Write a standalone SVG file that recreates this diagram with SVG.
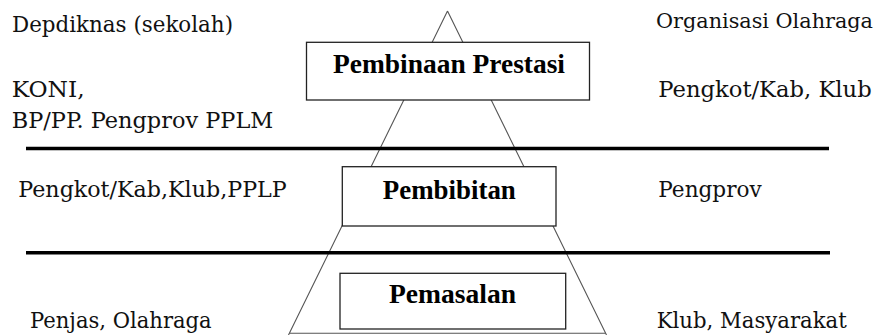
<svg xmlns="http://www.w3.org/2000/svg" width="880" height="335" viewBox="0 0 880 335">
<style>
text.lbl{font-family:'DejaVu Serif',serif;font-size:22px;fill:#111}
.box{fill:#fff;stroke:#222;stroke-width:1.3}
text.btxt{font-family:'Liberation Serif',serif;font-size:27px;font-weight:bold;fill:#000;text-anchor:middle}
.sep{stroke:#000;stroke-width:3.5}
.tri{fill:none;stroke:#555;stroke-width:1.1}
</style>
<rect width="880" height="335" fill="#fff"/>
<g id="connectors">
<path class="tri" d="M447.5,11 L288.5,335 M447.5,11 L606.5,335 M289.5,333.2 L605.5,333.2"/>
<line class="sep" x1="26" y1="148.5" x2="829" y2="148.5"/>
<line class="sep" x1="26" y1="252.7" x2="830" y2="252.7"/>
</g>
<g id="node-pembinaan">
<rect class="box" x="306.5" y="42.3" width="283" height="57.7"/>
<text class="btxt" x="449" y="72.7" textLength="232" lengthAdjust="spacingAndGlyphs">Pembinaan Prestasi</text>
</g>
<g id="node-pembibitan">
<rect class="box" x="342.3" y="166.7" width="213.7" height="59.3"/>
<text class="btxt" x="449.3" y="199.3" textLength="133" lengthAdjust="spacingAndGlyphs">Pembibitan</text>
</g>
<g id="node-pemasalan">
<rect class="box" x="340" y="273.3" width="225.7" height="55.7"/>
<text class="btxt" x="452.5" y="303.3" textLength="127" lengthAdjust="spacingAndGlyphs">Pemasalan</text>
</g>
<g id="labels">
<text class="lbl" x="12" y="31.7" textLength="221" lengthAdjust="spacingAndGlyphs">Depdiknas (sekolah)</text>
<text class="lbl" x="11.7" y="96.7" textLength="73" lengthAdjust="spacingAndGlyphs">KONI,</text>
<text class="lbl" x="11.7" y="128.3" textLength="261.6" lengthAdjust="spacingAndGlyphs">BP/PP. Pengprov PPLM</text>
<text class="lbl" x="656" y="28.3" style="font-size:19.5px" textLength="217" lengthAdjust="spacingAndGlyphs">Organisasi Olahraga</text>
<text class="lbl" x="658.3" y="96.7" textLength="213.4" lengthAdjust="spacingAndGlyphs">Pengkot/Kab, Klub</text>
<text class="lbl" x="18.3" y="196.7" textLength="268.4" lengthAdjust="spacingAndGlyphs">Pengkot/Kab,Klub,PPLP</text>
<text class="lbl" x="658.3" y="196.7" textLength="103.4" lengthAdjust="spacingAndGlyphs">Pengprov</text>
<text class="lbl" x="30" y="328.3" textLength="181.7" lengthAdjust="spacingAndGlyphs">Penjas, Olahraga</text>
<text class="lbl" x="656.7" y="328.3" textLength="190" lengthAdjust="spacingAndGlyphs">Klub, Masyarakat</text>
</g>
</svg>
